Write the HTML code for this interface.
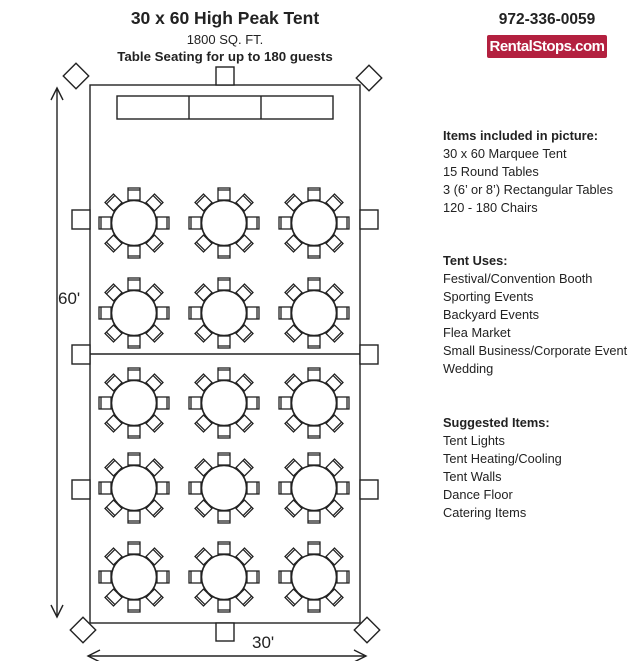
<!DOCTYPE html>
<html><head><meta charset="utf-8"><style>
body{margin:0;background:#fff;width:640px;height:661px;overflow:hidden;font-family:"Liberation Sans",Arial,sans-serif;color:#222}
.t{position:absolute;white-space:nowrap}
.r{position:absolute;left:443px;font-size:12.8px;line-height:18px;color:#222}
</style></head><body>
<div class="t" style="left:0;width:450px;text-align:center;top:8px;font-size:17.5px;font-weight:bold">30 x 60 High Peak Tent</div>
<div class="t" style="left:0;width:450px;text-align:center;top:32px;font-size:13px">1800 SQ. FT.</div>
<div class="t" style="left:0;width:450px;text-align:center;top:49px;font-size:13.3px;font-weight:bold">Table Seating for up to 180 guests</div>
<div class="t" style="left:487px;width:120px;text-align:center;top:11px;font-size:15.5px;font-weight:bold">972-336-0059</div>
<div class="t" style="left:487px;top:35px;width:120px;height:23px;background:#b3203f;color:#fff;font-weight:bold;font-size:15px;line-height:23px;text-align:center;border-radius:2px;letter-spacing:-0.5px">RentalStops.com</div>
<div class="r" style="top:127px"><b style="font-weight:600">Items included in picture:</b><br>30 x 60 Marquee Tent<br>15 Round Tables<br>3 (6’ or 8’) Rectangular Tables<br>120 - 180 Chairs</div>
<div class="r" style="top:252px"><b style="font-weight:600">Tent Uses:</b><br>Festival/Convention Booth<br>Sporting Events<br>Backyard Events<br>Flea Market<br>Small Business/Corporate Event<br>Wedding</div>
<div class="r" style="top:414px"><b style="font-weight:600">Suggested Items:</b><br>Tent Lights<br>Tent Heating/Cooling<br>Tent Walls<br>Dance Floor<br>Catering Items</div>
<svg width="640" height="661" style="position:absolute;left:0;top:0" xmlns="http://www.w3.org/2000/svg">
<defs>
<g id="c"><rect x="-6" y="-35" width="12" height="12"/><line x1="-6" y1="-33" x2="6" y2="-33"/></g>
<g id="tb" fill="#fff" stroke="#222" stroke-width="1.3">
<use href="#c"/><use href="#c" transform="rotate(45)"/><use href="#c" transform="rotate(90)"/><use href="#c" transform="rotate(135)"/>
<use href="#c" transform="rotate(180)"/><use href="#c" transform="rotate(225)"/><use href="#c" transform="rotate(270)"/><use href="#c" transform="rotate(315)"/>
<circle r="22.5" stroke-width="1.6"/>
</g>
</defs>
<g fill="#fff" stroke="#222" stroke-width="1.4">
<rect x="90" y="85" width="270" height="538"/>
<line x1="90" y1="354" x2="360" y2="354"/>
<rect x="117" y="96" width="216" height="23"/>
<line x1="189" y1="96" x2="189" y2="119"/><line x1="261" y1="96" x2="261" y2="119"/>
<rect x="72" y="210" width="18" height="19"/><rect x="360" y="210" width="18" height="19"/>
<rect x="72" y="345" width="18" height="19"/><rect x="360" y="345" width="18" height="19"/>
<rect x="72" y="480" width="18" height="19"/><rect x="360" y="480" width="18" height="19"/>
<rect x="216" y="67" width="18" height="18"/><rect x="216" y="623" width="18" height="18"/>
<rect x="67" y="67" width="18" height="18" transform="rotate(45 76 76)"/>
<rect x="360" y="69" width="18" height="18" transform="rotate(45 369 78)"/>
<rect x="74" y="621" width="18" height="18" transform="rotate(45 83 630)"/>
<rect x="358" y="621" width="18" height="18" transform="rotate(45 367 630)"/>
</g>
<use href="#tb" x="134" y="223"/><use href="#tb" x="224" y="223"/><use href="#tb" x="314" y="223"/>
<use href="#tb" x="134" y="313"/><use href="#tb" x="224" y="313"/><use href="#tb" x="314" y="313"/>
<use href="#tb" x="134" y="403"/><use href="#tb" x="224" y="403"/><use href="#tb" x="314" y="403"/>
<use href="#tb" x="134" y="488"/><use href="#tb" x="224" y="488"/><use href="#tb" x="314" y="488"/>
<use href="#tb" x="134" y="577"/><use href="#tb" x="224" y="577"/><use href="#tb" x="314" y="577"/>
<g stroke="#222" stroke-width="1.4" fill="none">
<line x1="57" y1="88" x2="57" y2="617"/>
<polyline points="51,100 57,88 63,100"/><polyline points="51,605 57,617 63,605"/>
<line x1="88" y1="656" x2="366" y2="656"/>
<polyline points="100,650 88,656 100,662"/><polyline points="354,650 366,656 354,662"/>
</g>
<text x="58" y="304" font-family="Liberation Sans, sans-serif" font-size="17" fill="#222">60'</text>
<text x="252" y="648" font-family="Liberation Sans, sans-serif" font-size="17" fill="#222">30'</text>
</svg>
</body></html>
